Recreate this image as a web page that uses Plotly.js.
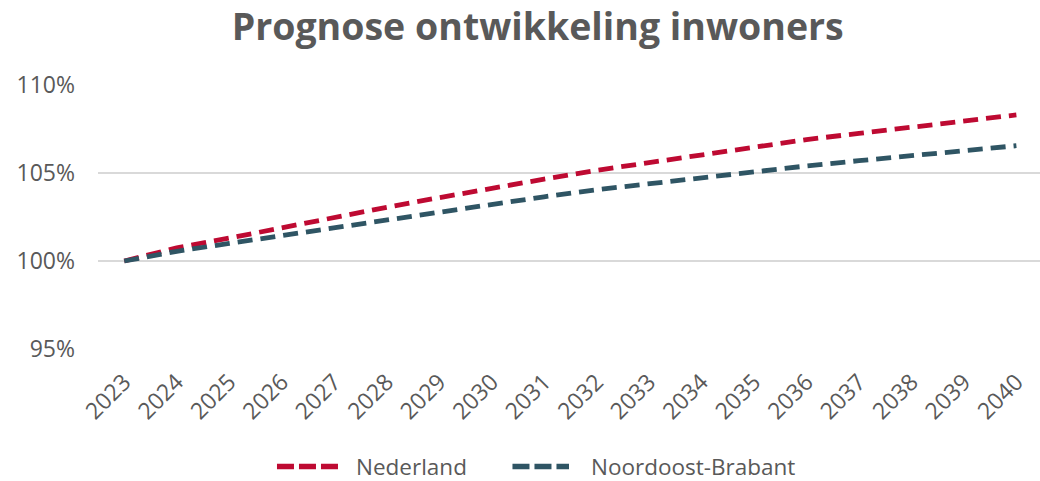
<!DOCTYPE html>
<html>
<head>
<meta charset="utf-8">
<script src="https://cdn.plot.ly/plotly-3.0.1.min.js"></script>
<style>html,body{margin:0;padding:0;background:#fff;}#chart{width:1040px;height:481px;}</style>
</head>
<body>
<div id="chart"></div>
<script>
const years = ['2023','2024','2025','2026','2027','2028','2029','2030','2031','2032','2033','2034','2035','2036','2037','2038','2039','2040'];
const nederland = [100, 100.75, 101.3, 101.9, 102.5, 103.05, 103.6, 104.15, 104.65, 105.15, 105.6, 106.05, 106.5, 106.9, 107.25, 107.6, 107.95, 108.3];
const noordoostBrabant = [100, 100.55, 101.0, 101.45, 101.9, 102.35, 102.8, 103.25, 103.65, 104.05, 104.4, 104.75, 105.1, 105.4, 105.7, 106.0, 106.3, 106.55];
const seriesNames = ['Nederland', 'Noordoost-Brabant'];
const seriesColors = ['#BE0A32', '#2F5564'];
const yTicks = [95, 100, 105, 110];

const font = 'Open Sans, sans-serif';
const grey = '#595959';

const traces = [
  {x: years, y: nederland, name: seriesNames[0], type: 'scatter', mode: 'lines',
   line: {color: seriesColors[0], width: 4.8, dash: '15px,8px'}},
  {x: years, y: noordoostBrabant, name: seriesNames[1], type: 'scatter', mode: 'lines',
   line: {color: seriesColors[1], width: 4.8, dash: '15px,8px'}}
];

// custom legend (paper coordinates), positioned like the reference
const legendPos = [
  {x0: 0.190, x1: 0.259, tx: 0.272},
  {x0: 0.440, x1: 0.500, tx: 0.521}
];
const legY = -0.445;
const shapes = legendPos.map((p, i) => ({
  type: 'line', xref: 'paper', yref: 'paper', x0: p.x0, x1: p.x1, y0: legY, y1: legY,
  line: {color: seriesColors[i], width: 5.5, dash: '17px,5px'}
}));
const annotations = legendPos.map((p, i) => ({
  xref: 'paper', yref: 'paper', x: p.tx, y: legY, xanchor: 'left', yanchor: 'middle',
  text: seriesNames[i], showarrow: false, font: {family: font, size: 22.5, color: grey}
}));

const layout = {
  width: 1040, height: 481,
  margin: {l: 98, r: 0, t: 85, b: 132},
  paper_bgcolor: '#fff', plot_bgcolor: '#fff',
  font: {family: font, color: grey},
  title: {text: '<b>Prognose ontwikkeling inwoners</b>', font: {family: font, size: 37.5, color: grey},
          x: 0.517, xanchor: 'center', y: 0.944, yanchor: 'middle', yref: 'container'},
  xaxis: {type: 'category', range: [-0.5, 17.45], tickangle: -45, showgrid: false,
          tickfont: {size: 23, color: grey}, ticks: '', ticklabelstandoff: 14,
          showline: false, zeroline: false},
  yaxis: {range: [95, 110], tickvals: yTicks, ticktext: yTicks.map(v => v + '%'),
          gridcolor: '#d9d9d9', gridwidth: 1.5, zeroline: false, showline: false,
          tickfont: {size: 23, color: grey}, ticks: '', ticklabelstandoff: 22},
  showlegend: false,
  shapes: shapes,
  annotations: annotations
};

Plotly.newPlot('chart', traces, layout, {displayModeBar: false, staticPlot: true});
</script>
</body>
</html>
